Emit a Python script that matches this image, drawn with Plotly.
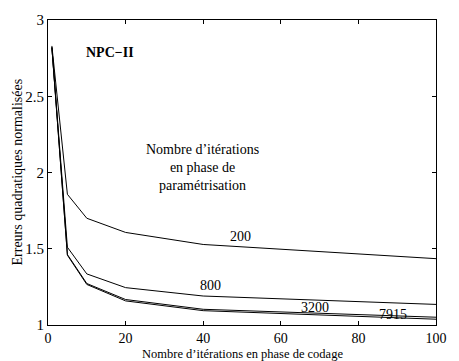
import plotly.graph_objects as go

iters = [1, 5, 10, 20, 40, 100]
err_200 = [2.83, 1.857, 1.70, 1.607, 1.528, 1.435]
err_800 = [2.82, 1.51, 1.335, 1.245, 1.19, 1.135]
err_3200 = [2.82, 1.462, 1.272, 1.167, 1.103, 1.051]
err_7915 = [2.82, 1.458, 1.266, 1.158, 1.094, 1.038]
series = [("200", err_200), ("800", err_800), ("3200", err_3200), ("7915", err_7915)]
label_pos = {"200": (49.7, 1.583), "800": (41.9, 1.262), "3200": (68.9, 1.117), "7915": (89.0, 1.068)}

FONT = "Liberation Serif"
fig = go.Figure()
for name, ys in series:
    fig.add_trace(go.Scatter(x=iters, y=ys, mode="lines", line=dict(color="black", width=1),
                             name=name, showlegend=False))
    lx, ly = label_pos[name]
    fig.add_annotation(x=lx, y=ly, text=name, showarrow=False,
                       font=dict(family=FONT, size=14, color="black"))

fig.add_annotation(x=16.1, y=2.785, text="<b>NPC\u2212II</b>", showarrow=False,
                   font=dict(family=FONT, size=14, color="black"))
fig.add_annotation(x=39.7, y=2.034,
                   text="Nombre d\u2019itérations<br>en phase de<br>paramétrisation",
                   showarrow=False, align="center",
                   font=dict(family=FONT, size=14, color="black"))

fig.add_annotation(xref="paper", yref="paper", x=0.5, xanchor="center", y=0, yshift=-21,
                   yanchor="top", borderpad=0,
                   text="Nombre d\u2019itérations en phase de codage", showarrow=False,
                   font=dict(family=FONT, size=12.5, color="black"))
fig.add_annotation(xref="paper", yref="paper", x=0, xshift=-31, xanchor="center",
                   y=0.5, yanchor="middle", textangle=-90,
                   text="Erreurs quadratiques normalisées", showarrow=False,
                   font=dict(family=FONT, size=14, color="black"))

axis_common = dict(showline=True, linecolor="black", linewidth=1, mirror="ticks",
                   ticks="inside", ticklen=4, tickcolor="black", showgrid=False, zeroline=False)
fig.update_xaxes(range=[0, 100], tickvals=[0, 20, 40, 60, 80, 100],
                 tickfont=dict(family=FONT, size=14, color="black"), **axis_common)
fig.update_yaxes(range=[1, 3], tickvals=[1, 1.5, 2, 2.5, 3],
                 ticktext=["1", "1.5", "2", "2.5", "3"],
                 tickfont=dict(family=FONT, size=15, color="black"), **axis_common)

fig.update_layout(width=459, height=361, margin=dict(l=48, r=15, t=16, b=36),
                  paper_bgcolor="white", plot_bgcolor="white", showlegend=False)
fig.write_html("out.html")
